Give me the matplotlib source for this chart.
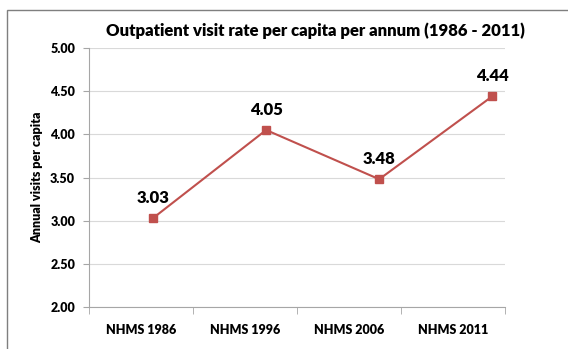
import matplotlib.pyplot as plt
from matplotlib.patches import Rectangle

# Outpatient visits per capita by survey round
surveys = ["NHMS 1986", "NHMS 1996", "NHMS 2006", "NHMS 2011"]
visits = [3.03, 4.05, 3.48, 4.44]
y_ticks = [2.00, 2.50, 3.00, 3.50, 4.00, 4.50, 5.00]

red = "#C0504D"
grid_col = "#D9D9D9"
axis_col = "#A6A6A6"
font = "Lato"
wt = "heavy"

fig = plt.figure(figsize=(5.68, 3.49), dpi=100)

# outer chart border (runs off the right and bottom edges)
fig.patches.append(Rectangle((6.5 / 568, -0.1), 1.2, 1 - 10 / 349 + 0.1,
                             transform=fig.transFigure, fill=False,
                             edgecolor="#7F7F7F", linewidth=1.0))

ax = fig.add_axes([89 / 568, 1 - 307 / 349, (505 - 89) / 568, (307 - 48) / 349])
ax.set_ylim(2.0, 5.0)
ax.set_yticks(y_ticks)
ax.set_yticklabels([f"{t:.2f}" for t in y_ticks], fontsize=9, fontweight=wt, family=font)
ax.yaxis.grid(True, color=grid_col, linewidth=0.8)
ax.set_axisbelow(True)

# category axis: labels centred in bands, ticks at band edges
ax.set_xlim(0, len(surveys))
ax.set_xticks([i + 0.5 for i in range(len(surveys))])
ax.set_xticklabels(surveys, fontsize=9, fontweight=wt, family=font)
ax.set_xticks(range(len(surveys) + 1), minor=True)
ax.tick_params(axis="x", which="major", length=0, pad=12)
ax.tick_params(axis="x", which="minor", length=5, color=axis_col, direction="out")
ax.tick_params(axis="y", length=4, color=axis_col, pad=6)

for side in ["top", "right"]:
    ax.spines[side].set_visible(False)
for side in ["left", "bottom"]:
    ax.spines[side].set_color(axis_col)
    ax.spines[side].set_linewidth(0.8)

ax.set_ylabel("Annual visits per capita", fontsize=9, fontweight=wt, family=font, labelpad=5)

# line series on its own category scale
lx = ax.twiny()
lx.set_xlim(-0.567, 3.113)
lx.axis("off")
xs = list(range(len(visits)))
lx.plot(xs, visits, color=red, linewidth=1.5, marker="s", markersize=6,
        markerfacecolor=red, markeredgecolor=red)
for x, v in zip(xs, visits):
    lx.annotate(f"{v:.2f}", (x, v), xytext=(0, 9), textcoords="offset points",
                ha="center", va="bottom", fontsize=12, fontweight=wt, family=font)

fig.text(315 / 568, 1 - 31 / 349, "Outpatient visit rate per capita per annum (1986 - 2011)",
         ha="center", va="center", fontsize=12, fontweight=wt, family=font)

fig.savefig("out.png", dpi=100)
